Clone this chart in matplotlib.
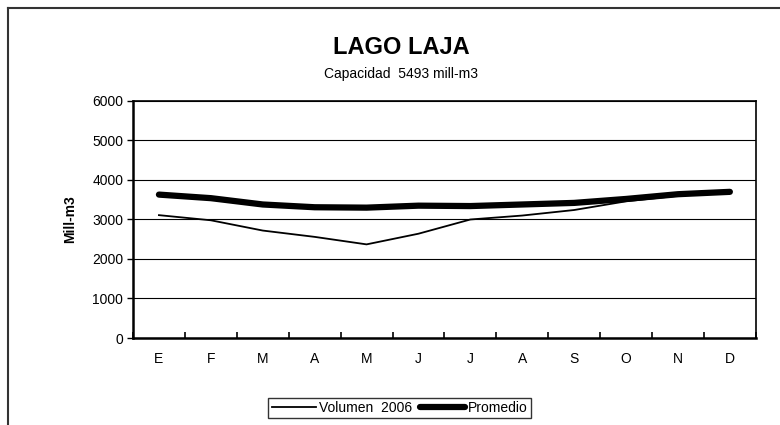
import numpy as np
import matplotlib
matplotlib.use("Agg")
import matplotlib.pyplot as plt
from matplotlib.lines import Line2D

plt.rcParams['font.family'] = ['Liberation Sans', 'DejaVu Sans']

meses = ['E', 'F', 'M', 'A', 'M', 'J', 'J', 'A', 'S', 'O', 'N', 'D']
volumen_2006 = [3110, 2980, 2720, 2560, 2370, 2640, 3000, 3100, 3240, 3460, 3600, 3700]
promedio = [3630, 3540, 3380, 3310, 3300, 3350, 3340, 3380, 3420, 3520, 3640, 3700]
y_ticks = [0, 1000, 2000, 3000, 4000, 5000, 6000]

fig = plt.figure(figsize=(7.8, 4.25), dpi=100)
ax = fig.add_axes([0.1705, 0.2047, 0.7985, 0.5577])

x = np.arange(len(meses))
ax.plot(x, volumen_2006, color='black', lw=1.3, label='Volumen  2006')
ax.plot(x, promedio, color='black', lw=4.5, solid_capstyle='round', label='Promedio')

ax.set_xlim(-0.5, len(meses) - 0.5)
ax.set_ylim(0, 6000)
ax.set_yticks(y_ticks)
ax.set_xticks(x)
ax.set_xticklabels(meses)
ax.set_xticks(np.arange(-0.5, len(meses)), minor=True)
ax.tick_params(axis='x', which='major', length=0, pad=10, labelsize=10)
ax.tick_params(axis='x', which='minor', direction='in', length=4, width=1.2)
ax.tick_params(axis='y', direction='out', length=4, width=1.0, labelsize=10, pad=3)
ax.grid(axis='y', color='black', lw=0.8)
ax.set_axisbelow(True)
for s in ['left', 'bottom']:
    ax.spines[s].set_linewidth(1.8)
for s in ['top', 'right']:
    ax.spines[s].set_linewidth(1.2)

ax.set_ylabel('Mill-m3', fontweight='bold', fontsize=10, labelpad=11)

fig.text(0.514, 0.888, 'LAGO LAJA', ha='center', va='center', fontsize=17, fontweight='bold')
fig.text(0.514, 0.826, 'Capacidad  5493 mill-m3', ha='center', va='center', fontsize=10)

# outer chart border (cut off on right and bottom)
fig.add_artist(Line2D([8 / 780, 8 / 780], [0, 1 - 8 / 425], transform=fig.transFigure, color='#333333', lw=1.5))
fig.add_artist(Line2D([8 / 780, 1], [1 - 8 / 425, 1 - 8 / 425], transform=fig.transFigure, color='#333333', lw=1.5))

leg = fig.legend(loc='center', bbox_to_anchor=(0.512, 0.04), ncol=2, frameon=True, fancybox=False,
                 edgecolor='black', fontsize=10, handlelength=3.2, handletextpad=0.2,
                 columnspacing=0.6, borderpad=0.25)
leg.get_frame().set_linewidth(1.0)

fig.savefig('out.png', dpi=100)
